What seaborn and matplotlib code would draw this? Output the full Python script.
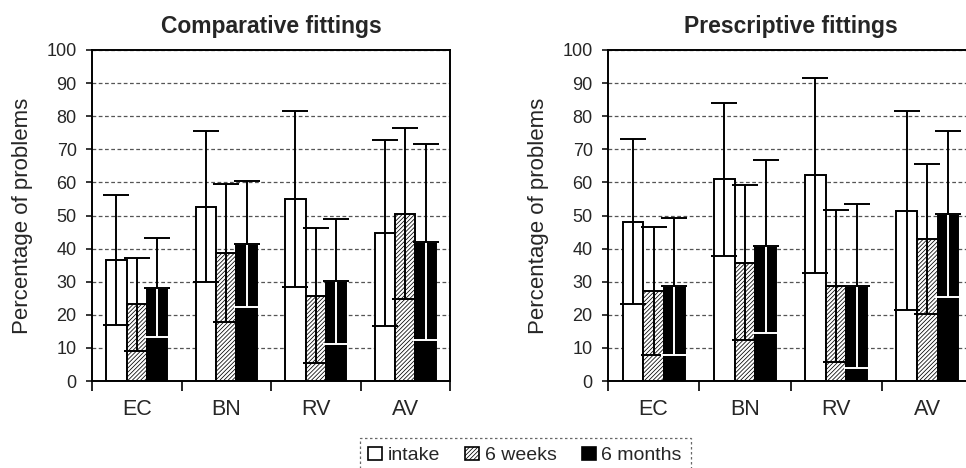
import numpy as np
import pandas as pd
import matplotlib
matplotlib.use("Agg")
import matplotlib.pyplot as plt
import seaborn as sns
from matplotlib.patches import Patch

# ---------------- data ----------------
categories = ["EC", "BN", "RV", "AV"]
timepoints = ["intake", "6 weeks", "6 months"]

comp_intake = [36.6, 52.7, 54.9, 44.7]
comp_6w = [23.2, 38.7, 25.8, 50.5]
comp_6m = [28.2, 41.5, 30.1, 42.0]
comp_intake_sd = [19.6, 22.9, 26.6, 28.0]
comp_6w_sd = [14.0, 20.9, 20.4, 25.8]
comp_6m_sd = [14.9, 19.0, 18.8, 29.5]

pres_intake = [48.1, 60.9, 62.1, 51.4]
pres_6w = [27.2, 35.7, 28.8, 42.8]
pres_6m = [28.6, 40.7, 28.6, 50.4]
pres_intake_sd = [24.9, 23.0, 29.4, 30.1]
pres_6w_sd = [19.2, 23.4, 23.0, 22.7]
pres_6m_sd = [20.6, 26.2, 24.8, 25.0]

titles = ["Comparative fittings", "Prescriptive fittings"]
y_ticks = [0, 10, 20, 30, 40, 50, 60, 70, 80, 90, 100]
y_label = "Percentage of problems"

panels = [
    ([comp_intake, comp_6w, comp_6m], [comp_intake_sd, comp_6w_sd, comp_6m_sd]),
    ([pres_intake, pres_6w, pres_6m], [pres_intake_sd, pres_6w_sd, pres_6m_sd]),
]

# ---------------- style ----------------
sns.set_style("white")
plt.rcParams["font.family"] = ["Liberation Sans", "DejaVu Sans"]
plt.rcParams["hatch.linewidth"] = 0.55
plt.rcParams["legend.fancybox"] = False

fig = plt.figure(figsize=(9.66, 4.68), dpi=100)
W, H = 966, 468
axes_px = [(92, 50, 450, 381), (608, 50, 973, 381)]

HATCH = "////////"
colors = ["white", "white", "black"]
LW = 1.4

for (means_list, sds_list), title, (x0, y0, x1, y1) in zip(panels, titles, axes_px):
    ax = fig.add_axes([x0 / W, (H - y1) / H, (x1 - x0) / W, (y1 - y0) / H])
    rows = []
    for t, vals in zip(timepoints, means_list):
        for c, v in zip(categories, vals):
            rows.append({"category": c, "time": t, "value": v})
    df = pd.DataFrame(rows)
    sns.barplot(data=df, x="category", y="value", hue="time", order=categories,
                hue_order=timepoints, palette=colors, saturation=1,
                edgecolor="black", linewidth=LW, width=0.68, errorbar=None,
                legend=False, ax=ax, zorder=2)

    bar_conts = list(ax.containers)
    for i, cont in enumerate(bar_conts):
        xs = np.array([p.get_x() + p.get_width() / 2 for p in cont.patches])
        m = np.array(means_list[i])
        s = np.array(sds_list[i])
        if i == 1:
            for p in cont.patches:
                p.set_hatch(HATCH)
        if i < 2:
            ax.errorbar(xs, m, yerr=s, fmt="none", ecolor="black",
                        elinewidth=LW, capsize=9.5, capthick=LW, zorder=3)
        else:
            z = np.zeros_like(s)
            ax.errorbar(xs, m, yerr=[s, z], fmt="none", ecolor="white",
                        elinewidth=LW, capsize=9.5, capthick=LW, zorder=3)
            ax.errorbar(xs, m, yerr=[z, s], fmt="none", ecolor="black",
                        elinewidth=LW, capsize=9.5, capthick=LW, zorder=4)

    ax.set_ylim(0, 100)
    ax.set_xlim(-0.5, len(categories) - 0.5)
    ax.set_yticks(y_ticks)
    ax.set_yticklabels([str(v) for v in y_ticks], fontsize=13)
    ax.set_xticks(range(len(categories)))
    ax.set_xticklabels(categories, fontsize=15.5)
    ax.set_xticks(np.arange(-0.5, len(categories), 1.0), minor=True)
    ax.tick_params(axis="x", which="major", length=0, pad=13)
    ax.tick_params(axis="x", which="minor", length=7, width=1.2, direction="out",
                   color="black", bottom=True)
    ax.tick_params(axis="y", which="major", length=4, width=1.1, direction="out",
                   pad=7, color="black", left=True)
    ax.set_xlabel("")
    ax.set_ylabel(y_label, fontsize=16, labelpad=10)
    ax.set_title(title, fontsize=16.5, fontweight="bold", pad=12)
    ax.yaxis.grid(True, linestyle=(0, (3, 2)), color="#555555", linewidth=0.9)
    ax.xaxis.grid(False)
    ax.set_axisbelow(True)
    for sp in ax.spines.values():
        sp.set_visible(True)
        sp.set_color("black")
        sp.set_linewidth(LW)

handles = [
    Patch(facecolor="white", edgecolor="black", linewidth=1.2, label="intake"),
    Patch(facecolor="white", edgecolor="black", linewidth=1.2, hatch=HATCH, label="6 weeks"),
    Patch(facecolor="black", edgecolor="black", linewidth=1.2, label="6 months"),
]
leg = fig.legend(handles=handles, loc="upper center", bbox_to_anchor=(0.5435, (H - 438) / H),
                 ncol=3, frameon=True, fontsize=14, handlelength=0.7, handleheight=0.7,
                 handletextpad=0.3, columnspacing=1.3, borderpad=0.45, borderaxespad=0,
                 edgecolor="black")
fr = leg.get_frame()
fr.set_linestyle((0, (2, 2)))
fr.set_linewidth(0.9)
fr.set_edgecolor("#444444")

fig.savefig("out.png", dpi=100)
